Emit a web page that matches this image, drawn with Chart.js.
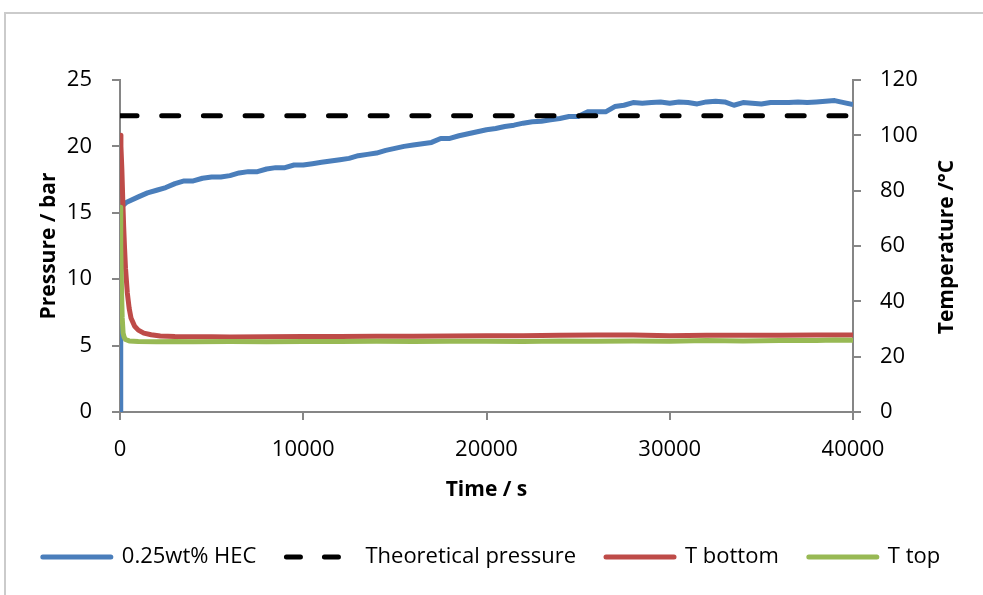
<!DOCTYPE html>
<html>
<head>
<meta charset="utf-8">
<script src="https://cdn.jsdelivr.net/npm/chart.js@4"></script>
<style>
  html, body { margin: 0; padding: 0; background: #fff; overflow: hidden; }
  #frame { position: absolute; left: 4px; top: 12px; width: 1100px; height: 700px;
           border-left: 2px solid #cbcbcb; border-top: 2px solid #cbcbcb; }
  #chart { position: absolute; left: 0; top: 0; }
</style>
</head>
<body>
<div id="frame"></div>
<canvas id="chart" width="983" height="595"></canvas>
<script>
// time / s and pressure / bar for the 0.25wt% HEC run
const pressureTime = [0, 40, 365, 1000, 1500, 2000, 2500, 3000, 3500, 4000, 4500, 5000, 5500, 6000, 6500,
  7000, 7500, 8000, 8500, 9000, 9500, 10000, 10500, 11000, 11500, 12000, 12500, 13000, 13500, 14000,
  14500, 15000, 15500, 16000, 16500, 17000, 17500, 18000, 18500, 19000, 19500, 20000, 20500, 21000,
  21500, 22000, 22500, 23000, 23500, 24000, 24500, 25000, 25500, 26000, 26500, 27000, 27500, 28000,
  28500, 29000, 29500, 30000, 30500, 31000, 31500, 32000, 32500, 33000, 33500, 34000, 34500, 35000,
  35500, 36000, 36500, 37000, 37500, 38000, 38500, 39000, 39500, 40000];
const pressure = [0, 15.4, 15.8, 16.2, 16.5, 16.7, 16.9, 17.2, 17.4, 17.4, 17.6, 17.7, 17.7, 17.8, 18.0,
  18.1, 18.1, 18.3, 18.4, 18.4, 18.6, 18.6, 18.7, 18.8, 18.9, 19.0, 19.1, 19.3, 19.4, 19.5,
  19.7, 19.85, 20.0, 20.1, 20.2, 20.3, 20.6, 20.6, 20.8, 20.95, 21.1, 21.25, 21.35, 21.5,
  21.6, 21.75, 21.85, 21.9, 22.0, 22.1, 22.25, 22.25, 22.6, 22.6, 22.6, 23.0, 23.1, 23.3,
  23.25, 23.3, 23.35, 23.25, 23.35, 23.3, 23.2, 23.35, 23.4, 23.35, 23.1, 23.3, 23.25, 23.2,
  23.3, 23.3, 23.3, 23.35, 23.3, 23.35, 23.4, 23.45, 23.3, 23.15];

const theoryTime = [0, 40000];
const theoryPressure = [22.3, 22.3];

// temperatures / °C
const tBottomTime = [0, 50, 100, 150, 200, 250, 300, 400, 500, 600, 800, 1000, 1300, 1700, 2200, 3000,
  4000, 5000, 6000, 8000, 10000, 12000, 14000, 16000, 18000, 20000, 22000, 24000, 26000, 28000,
  30000, 32000, 34000, 36000, 38000, 40000];
const tBottom = [100, 96, 88, 77, 67, 59, 52, 43, 37.5, 34, 31, 29.6, 28.5, 27.9, 27.5, 27.3,
  27.2, 27.2, 27.1, 27.2, 27.3, 27.3, 27.4, 27.4, 27.5, 27.6, 27.6, 27.7, 27.8, 27.8,
  27.6, 27.7, 27.7, 27.7, 27.8, 27.8];

const tTopTime = [0, 40, 80, 120, 170, 230, 300, 500, 1000, 2000, 3000, 4000, 6000, 8000, 10000,
  12000, 14000, 16000, 18000, 20000, 22000, 24000, 26000, 28000, 30000, 32000, 34000, 36000,
  38000, 39000, 40000];
const tTop = [74, 60, 45, 34, 28.5, 27, 26.2, 25.7, 25.5, 25.4, 25.5, 25.4, 25.5, 25.4, 25.5,
  25.5, 25.6, 25.5, 25.6, 25.6, 25.5, 25.7, 25.6, 25.7, 25.6, 25.8, 25.7, 25.8,
  25.8, 26.0, 25.9];

const xTicks = [0, 10000, 20000, 30000, 40000];
const yTicks = [0, 5, 10, 15, 20, 25];
const y2Ticks = [0, 20, 40, 60, 80, 100, 120];

const pts = (xs, ys) => xs.map((x, i) => ({ x: x, y: ys[i] }));
const axisGrey = "#868686";
const tickFont = { family: "Open Sans", size: 22 };
const titleFont = { family: "Open Sans", size: 21, weight: "bold" };

const rightTitle = {
  id: "rightTitle",
  afterDraw(chart) {
    const c = chart.ctx;
    c.save();
    c.translate(947, 247);
    c.rotate(-Math.PI / 2);
    c.font = "bold 21px 'Open Sans'";
    c.fillStyle = "#000";
    c.textAlign = "center";
    c.textBaseline = "middle";
    c.fillText("Temperature /°C", 0, 0);
    c.restore();
  }
};

const fixTicks = (list) => (scale) => { scale.ticks = list.map(v => ({ value: v })); };

const legendItems = (chart) =>
  Chart.defaults.plugins.legend.labels.generateLabels(chart).map(item => {
    const ds = chart.data.datasets[item.datasetIndex];
    item.lineDash = ds.borderDash ? [14, 24] : [];
    item.lineWidth = 5;
    item.lineCap = "round";
    item.strokeStyle = ds.borderColor;
    return item;
  });

new Chart(document.getElementById("chart"), {
  type: "line",
  data: {
    datasets: [
      { label: "0.25wt% HEC", data: pts(pressureTime, pressure), yAxisID: "y",
        borderColor: "#4a7ebb", backgroundColor: "#4a7ebb", borderWidth: 5, order: 4 },
      { label: "Theoretical pressure", data: pts(theoryTime, theoryPressure), yAxisID: "y",
        borderColor: "#000", backgroundColor: "#000", borderWidth: 5, borderDash: [17, 24.7],
        borderCapStyle: "round", order: 3 },
      { label: "T bottom", data: pts(tBottomTime, tBottom), yAxisID: "y2",
        borderColor: "#be4b48", backgroundColor: "#be4b48", borderWidth: 5, order: 2 },
      { label: "T top", data: pts(tTopTime, tTop), yAxisID: "y2",
        borderColor: "#98b954", backgroundColor: "#98b954", borderWidth: 5, order: 1 }
    ]
  },
  options: {
    responsive: false,
    animation: false,
    elements: { point: { radius: 0 }, line: { tension: 0, borderJoinStyle: "round" } },
    layout: { padding: { top: 80, bottom: 17, left: 0, right: 0 } },
    plugins: {
      tooltip: { enabled: false },
      legend: {
        position: "bottom",
        labels: {
          usePointStyle: true,
          pointStyle: "line",
          pointStyleWidth: 68,
          boxHeight: 5,
          padding: 30,
          color: "#000",
          font: { family: "Open Sans", size: 22 },
          generateLabels: legendItems,
          sort: (a, b) => a.datasetIndex - b.datasetIndex
        }
      }
    },
    scales: {
      x: {
        type: "linear", min: 0, max: 40000,
        afterBuildTicks: fixTicks(xTicks),
        afterFit: (s) => { s.height = 104; },
        ticks: { color: "#000", font: tickFont, padding: 17, maxRotation: 0, callback: v => String(v) },
        grid: { drawOnChartArea: false, tickLength: 8, color: axisGrey, lineWidth: 2 },
        border: { color: axisGrey, width: 2 },
        title: { display: true, text: "Time / s", color: "#000", font: titleFont, padding: { bottom: 13 } }
      },
      y: {
        position: "left", min: 0, max: 25,
        afterBuildTicks: fixTicks(yTicks),
        afterFit: (s) => { s.width = 120; },
        ticks: { color: "#000", font: tickFont, padding: 20 },
        grid: { drawOnChartArea: false, tickLength: 8, color: axisGrey, lineWidth: 2 },
        border: { color: axisGrey, width: 2 },
        title: { display: true, text: "Pressure / bar", color: "#000", font: titleFont, padding: { top: 36 } }
      },
      y2: {
        position: "right", min: 0, max: 120,
        afterBuildTicks: fixTicks(y2Ticks),
        afterFit: (s) => { s.width = 130; },
        ticks: { color: "#000", font: tickFont, padding: 19 },
        grid: { drawOnChartArea: false, tickLength: 8, color: axisGrey, lineWidth: 2 },
        border: { color: axisGrey, width: 2 }
      }
    }
  },
  plugins: [rightTitle]
});
</script>
</body>
</html>
